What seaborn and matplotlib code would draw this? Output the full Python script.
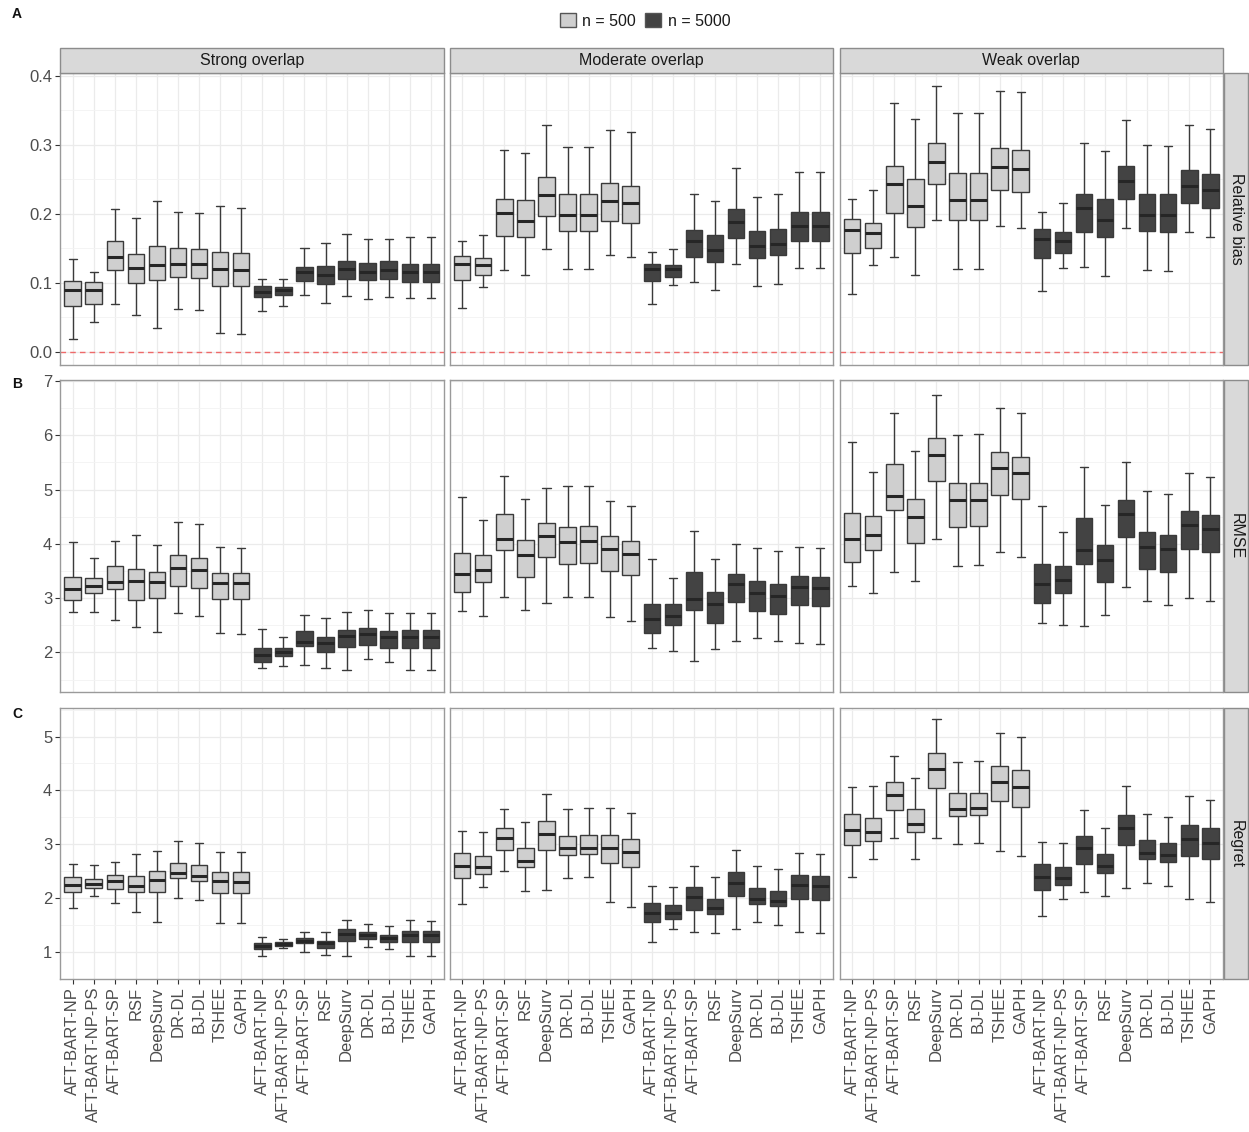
import numpy as np
import pandas as pd
import matplotlib
matplotlib.use("Agg")
import matplotlib.pyplot as plt
from matplotlib.patches import Patch, Rectangle
import seaborn as sns

methods = ["AFT-BART-NP", "AFT-BART-NP-PS", "AFT-BART-SP", "RSF", "DeepSurv",
           "DR-DL", "BJ-DL", "TSHEE", "GAPH"]
sizes = ["n = 500", "n = 5000"]
overlaps = ["Strong overlap", "Moderate overlap", "Weak overlap"]
metrics = ["Relative bias", "RMSE", "Regret"]

# five-number summaries per box: (lower whisker, q1, median, q3, upper whisker)
bias_strong_500 = [
    (0.019, 0.067, 0.090, 0.103, 0.135), (0.044, 0.070, 0.090, 0.101, 0.115),
    (0.070, 0.119, 0.138, 0.160, 0.207), (0.053, 0.100, 0.121, 0.142, 0.194),
    (0.035, 0.104, 0.126, 0.153, 0.219), (0.062, 0.109, 0.128, 0.151, 0.203),
    (0.060, 0.107, 0.127, 0.149, 0.201), (0.028, 0.096, 0.120, 0.145, 0.212),
    (0.026, 0.095, 0.118, 0.143, 0.209)]
bias_strong_5000 = [
    (0.059, 0.079, 0.087, 0.095, 0.106), (0.067, 0.082, 0.089, 0.094, 0.106),
    (0.083, 0.102, 0.115, 0.123, 0.150), (0.071, 0.098, 0.111, 0.125, 0.158),
    (0.081, 0.105, 0.120, 0.132, 0.171), (0.077, 0.104, 0.116, 0.129, 0.163),
    (0.079, 0.106, 0.119, 0.131, 0.164), (0.078, 0.101, 0.115, 0.128, 0.167),
    (0.078, 0.101, 0.115, 0.128, 0.167)]
bias_moderate_500 = [
    (0.063, 0.104, 0.128, 0.139, 0.160), (0.094, 0.111, 0.126, 0.136, 0.170),
    (0.119, 0.168, 0.201, 0.221, 0.293), (0.112, 0.167, 0.190, 0.220, 0.288),
    (0.149, 0.197, 0.227, 0.253, 0.329), (0.120, 0.175, 0.198, 0.228, 0.297),
    (0.120, 0.175, 0.199, 0.229, 0.297), (0.141, 0.189, 0.219, 0.244, 0.321),
    (0.138, 0.187, 0.216, 0.241, 0.319)]
bias_moderate_5000 = [
    (0.070, 0.102, 0.120, 0.128, 0.144), (0.097, 0.109, 0.120, 0.126, 0.149),
    (0.101, 0.137, 0.161, 0.176, 0.228), (0.090, 0.130, 0.147, 0.169, 0.218),
    (0.128, 0.165, 0.188, 0.207, 0.267), (0.096, 0.136, 0.154, 0.175, 0.225),
    (0.099, 0.140, 0.157, 0.178, 0.228), (0.122, 0.160, 0.183, 0.202, 0.261),
    (0.122, 0.160, 0.183, 0.202, 0.261)]
bias_weak_500 = [
    (0.084, 0.143, 0.176, 0.192, 0.222), (0.126, 0.150, 0.172, 0.187, 0.235),
    (0.138, 0.201, 0.243, 0.269, 0.361), (0.111, 0.181, 0.211, 0.250, 0.337),
    (0.191, 0.243, 0.275, 0.303, 0.385), (0.120, 0.191, 0.220, 0.259, 0.346),
    (0.120, 0.191, 0.220, 0.259, 0.346), (0.183, 0.235, 0.268, 0.295, 0.378),
    (0.180, 0.232, 0.265, 0.293, 0.376)]
bias_weak_5000 = [
    (0.088, 0.136, 0.164, 0.178, 0.203), (0.122, 0.143, 0.161, 0.174, 0.216),
    (0.123, 0.174, 0.208, 0.228, 0.302), (0.110, 0.167, 0.191, 0.222, 0.291),
    (0.179, 0.221, 0.247, 0.269, 0.336), (0.118, 0.175, 0.199, 0.229, 0.299),
    (0.117, 0.173, 0.198, 0.228, 0.298), (0.173, 0.215, 0.241, 0.263, 0.329),
    (0.167, 0.208, 0.234, 0.257, 0.323)]

rmse_strong_500 = [
    (2.74, 2.96, 3.17, 3.39, 4.04), (2.75, 3.10, 3.22, 3.37, 3.74),
    (2.60, 3.17, 3.30, 3.60, 4.06), (2.47, 2.97, 3.32, 3.54, 4.17),
    (2.37, 3.00, 3.30, 3.48, 3.97), (2.72, 3.22, 3.56, 3.80, 4.41),
    (2.67, 3.18, 3.52, 3.74, 4.36), (2.35, 2.98, 3.28, 3.47, 3.94),
    (2.34, 2.98, 3.28, 3.46, 3.93)]
rmse_strong_5000 = [
    (1.72, 1.83, 1.96, 2.08, 2.44), (1.75, 1.93, 2.01, 2.09, 2.28),
    (1.76, 2.12, 2.20, 2.39, 2.68), (1.72, 2.00, 2.18, 2.29, 2.63),
    (1.68, 2.10, 2.31, 2.42, 2.75), (1.87, 2.14, 2.33, 2.45, 2.79),
    (1.82, 2.09, 2.28, 2.39, 2.72), (1.67, 2.09, 2.29, 2.41, 2.72),
    (1.67, 2.09, 2.29, 2.41, 2.72)]
rmse_moderate_500 = [
    (2.77, 3.12, 3.45, 3.83, 4.87), (2.67, 3.29, 3.52, 3.80, 4.44),
    (3.02, 3.89, 4.09, 4.55, 5.25), (2.79, 3.39, 3.80, 4.07, 4.82),
    (2.91, 3.75, 4.15, 4.39, 5.03), (3.02, 3.63, 4.04, 4.32, 5.06),
    (3.03, 3.64, 4.05, 4.33, 5.07), (2.66, 3.50, 3.90, 4.15, 4.79),
    (2.57, 3.42, 3.82, 4.06, 4.70)]
rmse_moderate_5000 = [
    (2.09, 2.36, 2.62, 2.90, 3.72), (2.03, 2.50, 2.67, 2.89, 3.38),
    (1.85, 2.78, 2.99, 3.48, 4.24), (2.07, 2.55, 2.90, 3.12, 3.72),
    (2.21, 2.92, 3.26, 3.45, 3.99), (2.27, 2.76, 3.09, 3.31, 3.92),
    (2.21, 2.71, 3.04, 3.26, 3.87), (2.17, 2.87, 3.20, 3.40, 3.94),
    (2.15, 2.85, 3.18, 3.39, 3.92)]
rmse_weak_500 = [
    (3.22, 3.67, 4.09, 4.56, 5.87), (3.09, 3.88, 4.16, 4.52, 5.33),
    (3.48, 4.63, 4.89, 5.48, 6.42), (3.31, 4.02, 4.50, 4.83, 5.72),
    (4.09, 5.15, 5.64, 5.95, 6.75), (3.60, 4.32, 4.80, 5.12, 6.01),
    (3.61, 4.33, 4.81, 5.13, 6.02), (3.85, 4.90, 5.39, 5.70, 6.50),
    (3.76, 4.82, 5.31, 5.61, 6.42)]
rmse_weak_5000 = [
    (2.54, 2.91, 3.26, 3.63, 4.70), (2.50, 3.10, 3.33, 3.59, 4.21),
    (2.48, 3.63, 3.89, 4.48, 5.42), (2.68, 3.29, 3.70, 3.98, 4.72),
    (3.20, 4.12, 4.55, 4.81, 5.51), (2.94, 3.54, 3.95, 4.22, 4.97),
    (2.88, 3.49, 3.90, 4.17, 4.92), (3.00, 3.91, 4.35, 4.61, 5.30),
    (2.94, 3.85, 4.28, 4.54, 5.24)]

regret_strong_500 = [
    (1.82, 2.11, 2.25, 2.40, 2.64), (2.04, 2.19, 2.26, 2.36, 2.61),
    (1.91, 2.17, 2.32, 2.43, 2.67), (1.75, 2.12, 2.22, 2.41, 2.82),
    (1.56, 2.11, 2.33, 2.51, 2.88), (2.01, 2.37, 2.47, 2.66, 3.07),
    (1.96, 2.32, 2.42, 2.61, 3.02), (1.54, 2.10, 2.31, 2.49, 2.86),
    (1.54, 2.09, 2.30, 2.48, 2.85)]
regret_strong_5000 = [
    (0.93, 1.06, 1.12, 1.17, 1.28), (1.07, 1.11, 1.15, 1.18, 1.25),
    (1.01, 1.16, 1.21, 1.27, 1.37), (0.95, 1.08, 1.16, 1.21, 1.37),
    (0.93, 1.20, 1.33, 1.42, 1.60), (1.10, 1.24, 1.31, 1.37, 1.52),
    (1.05, 1.19, 1.27, 1.31, 1.48), (0.92, 1.19, 1.31, 1.40, 1.59),
    (0.92, 1.19, 1.31, 1.40, 1.58)]
regret_moderate_500 = [
    (1.90, 2.37, 2.60, 2.84, 3.24), (2.21, 2.45, 2.57, 2.78, 3.22),
    (2.51, 2.90, 3.12, 3.30, 3.66), (2.14, 2.57, 2.69, 2.93, 3.42),
    (2.16, 2.90, 3.19, 3.44, 3.93), (2.37, 2.81, 2.93, 3.16, 3.66),
    (2.39, 2.82, 2.94, 3.17, 3.67), (1.92, 2.65, 2.94, 3.18, 3.67),
    (1.83, 2.57, 2.86, 3.10, 3.59)]
regret_moderate_5000 = [
    (1.18, 1.55, 1.73, 1.91, 2.22), (1.43, 1.61, 1.72, 1.87, 2.21),
    (1.37, 1.78, 2.02, 2.20, 2.60), (1.35, 1.70, 1.81, 1.99, 2.39),
    (1.43, 2.04, 2.29, 2.48, 2.89), (1.55, 1.90, 1.99, 2.19, 2.59),
    (1.50, 1.85, 1.95, 2.13, 2.54), (1.38, 1.99, 2.24, 2.43, 2.84),
    (1.36, 1.97, 2.22, 2.41, 2.82)]
regret_weak_500 = [
    (2.39, 2.98, 3.27, 3.57, 4.07), (2.73, 3.07, 3.22, 3.49, 4.08),
    (3.12, 3.64, 3.92, 4.16, 4.64), (2.72, 3.23, 3.38, 3.65, 4.23),
    (3.12, 4.04, 4.40, 4.70, 5.32), (3.01, 3.52, 3.66, 3.95, 4.53),
    (3.02, 3.54, 3.67, 3.96, 4.54), (2.87, 3.80, 4.15, 4.45, 5.07),
    (2.79, 3.70, 4.07, 4.37, 4.99)]
regret_weak_5000 = [
    (1.67, 2.16, 2.40, 2.64, 3.05), (1.99, 2.25, 2.37, 2.58, 3.03),
    (2.12, 2.63, 2.93, 3.15, 3.64), (2.04, 2.46, 2.59, 2.82, 3.31),
    (2.18, 2.98, 3.30, 3.55, 4.09), (2.29, 2.72, 2.83, 3.08, 3.56),
    (2.23, 2.67, 2.80, 3.02, 3.51), (1.98, 2.78, 3.10, 3.35, 3.89),
    (1.92, 2.72, 3.02, 3.30, 3.82)]

panel_data = {
    ("Relative bias", "Strong overlap"): (bias_strong_500, bias_strong_5000),
    ("Relative bias", "Moderate overlap"): (bias_moderate_500, bias_moderate_5000),
    ("Relative bias", "Weak overlap"): (bias_weak_500, bias_weak_5000),
    ("RMSE", "Strong overlap"): (rmse_strong_500, rmse_strong_5000),
    ("RMSE", "Moderate overlap"): (rmse_moderate_500, rmse_moderate_5000),
    ("RMSE", "Weak overlap"): (rmse_weak_500, rmse_weak_5000),
    ("Regret", "Strong overlap"): (regret_strong_500, regret_strong_5000),
    ("Regret", "Moderate overlap"): (regret_moderate_500, regret_moderate_5000),
    ("Regret", "Weak overlap"): (regret_weak_500, regret_weak_5000),
}

# long table: the five numbers of each box become its "observations"
slots = [f"{m} | {n}" for n in sizes for m in methods]
rows = []
for (metric, overlap), pair in panel_data.items():
    for n, stats in zip(sizes, pair):
        for m, five in zip(methods, stats):
            for v in five:
                rows.append((metric, overlap, n, f"{m} | {n}", v))
df = pd.DataFrame(rows, columns=["metric", "overlap", "n", "slot", "value"])

sns.set_theme(style="white")
plt.rcParams["font.family"] = ["Liberation Sans", "DejaVu Sans"]

palette = {"n = 500": "#CFCFCF", "n = 5000": "#434343"}
line_col = "#3a3a3a"
text_col = "#4D4D4D"

W, H = 1249, 1132
fig = plt.figure(figsize=(W / 100, H / 100), dpi=100)

col_x = [60, 449.5, 839.5]
col_w = 383.5
row_y = [(73, 365), (380, 692), (708, 979)]
ylims = [(-0.019, 0.404), (1.27, 7.02), (0.64, 5.53)]
major = [np.arange(0, 0.41, 0.1), np.arange(2, 8, 1.0), np.arange(1, 6, 1.0)]
minor = [np.arange(0.05, 0.4, 0.1), np.arange(1.5, 7.1, 1.0), np.arange(0.5, 5.6, 1.0)]
fmts = ["{:.1f}", "{:.0f}", "{:.0f}"]

for r, metric in enumerate(metrics):
    y0, y1 = row_y[r]
    for c, overlap in enumerate(overlaps):
        ax = fig.add_axes([col_x[c] / W, 1 - y1 / H, col_w / W, (y1 - y0) / H])
        sub = df[(df["metric"] == metric) & (df["overlap"] == overlap)]
        sns.boxplot(data=sub, x="slot", y="value", hue="n", order=slots,
                    hue_order=sizes, palette=palette, dodge=False, width=0.78,
                    whis=(0, 100), showfliers=False, saturation=1,
                    linecolor=line_col, linewidth=1.0, legend=False, ax=ax,
                    medianprops={"color": "#262626", "linewidth": 2.2})
        ax.set_xlim(-0.6, 17.6)
        ax.set_ylim(*ylims[r])
        ax.set_yticks(major[r])
        ax.set_yticks(minor[r], minor=True)
        ax.set_xticks(range(len(slots)))
        ax.set_axisbelow(True)
        ax.grid(True, which="major", color="#EBEBEB", linewidth=0.9)
        ax.grid(True, which="minor", axis="y", color="#F3F3F3", linewidth=0.6)
        ax.set_xlabel("")
        ax.set_ylabel("")
        for sp in ax.spines.values():
            sp.set_color("#9A9A9A")
            sp.set_linewidth(1.0)
        ax.tick_params(axis="both", which="major", length=3.5, width=0.8,
                       color="#333333", labelsize=12, labelcolor=text_col,
                       direction="out", pad=2)
        ax.tick_params(axis="y", which="minor", length=0)
        if c == 0:
            ax.set_yticklabels([fmts[r].format(v) for v in major[r]])
            ax.tick_params(axis="y", left=True)
        else:
            ax.tick_params(axis="y", left=False, labelleft=False)
        if r == 2:
            ax.set_xticklabels(methods * 2, rotation=90)
            ax.tick_params(axis="x", bottom=True)
        else:
            ax.tick_params(axis="x", bottom=False, labelbottom=False)
        if r == 0:
            ax.axhline(0, color="#EE6A6A", linewidth=1.0, linestyle=(0, (4, 3)),
                       zorder=1)
            fig.add_artist(Rectangle((col_x[c] / W, 1 - 73 / H), col_w / W, 25 / H,
                                     transform=fig.transFigure, facecolor="#D9D9D9",
                                     edgecolor="#8C8C8C", linewidth=1.0))
            fig.text((col_x[c] + col_w / 2) / W, 1 - 61 / H, overlap,
                     ha="center", va="center", fontsize=11.5, color="#1A1A1A")
    # right strip with the metric name
    fig.add_artist(Rectangle((1223.5 / W, 1 - y1 / H), 24.5 / W, (y1 - y0) / H,
                             transform=fig.transFigure, facecolor="#D9D9D9",
                             edgecolor="#8C8C8C", linewidth=1.0))
    fig.text(1236 / W, 1 - (y0 + y1) / 2 / H, metric, rotation=270,
             ha="center", va="center", fontsize=11.5, color="#1A1A1A")

for lab, y in zip(["A", "B", "C"], [14, 384, 714]):
    fig.text(17 / W, 1 - y / H, lab, ha="center", va="center",
             fontsize=10, fontweight="bold", color="#111111")

handles = [Patch(facecolor=palette[s], edgecolor="#555555", linewidth=1.0) for s in sizes]
fig.legend(handles=handles, labels=sizes, loc="center",
           bbox_to_anchor=(645 / W, 1 - 21 / H), ncol=2, frameon=False,
           fontsize=11.5, handlelength=1.0, handleheight=1.0,
           columnspacing=0.6, handletextpad=0.4, labelcolor="#1A1A1A")

fig.savefig("out.png", dpi=100)
